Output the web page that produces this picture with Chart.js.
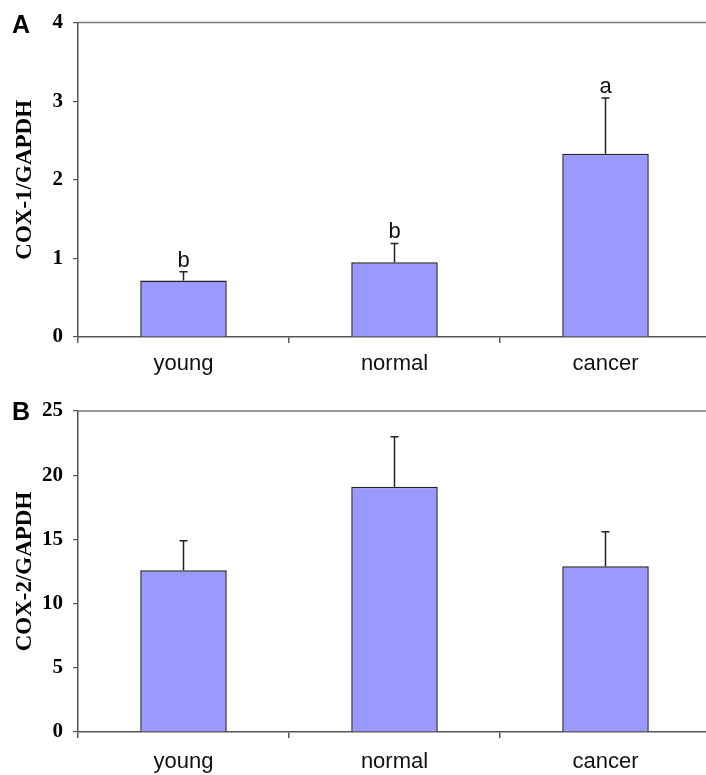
<!DOCTYPE html>
<html>
<head>
<meta charset="utf-8">
<script src="https://cdn.jsdelivr.net/npm/chart.js@4"></script>
<style>
  html, body { margin: 0; padding: 0; background: #fff; overflow: hidden; }
  canvas { display: block; }
</style>
</head>
<body>
<canvas id="chartA" width="712" height="388"></canvas>
<canvas id="chartB" width="712" height="387"></canvas>
<script>
// data
var categories = ['young', 'normal', 'cancer'];
var cox1Means = [0.72, 0.95, 2.33];
var cox1Errors = [0.11, 0.24, 0.71];
var cox1Letters = ['b', 'b', 'a'];
var cox1Ticks = [0, 1, 2, 3, 4];
var cox2Means = [12.6, 19.1, 12.9];
var cox2Errors = [2.3, 3.9, 2.7];
var cox2Ticks = [0, 5, 10, 15, 20, 25];

// error bars, letters, top frame line and panel letter
var extrasPlugin = {
    id: 'extras',
    afterDatasetsDraw: function (chart, args, opts) {
        var ctx = chart.ctx;
        var yScale = chart.scales.y;
        var meta = chart.getDatasetMeta(0);
        var area = chart.chartArea;
        ctx.save();
        // top frame line
        ctx.strokeStyle = '#777';
        ctx.lineWidth = 1.5;
        ctx.beginPath();
        ctx.moveTo(area.left, area.top);
        ctx.lineTo(area.right, area.top);
        ctx.stroke();

        ctx.strokeStyle = '#222';
        ctx.lineWidth = 1.5;
        meta.data.forEach(function (bar, i) {
            var m = opts.means[i];
            var top = yScale.getPixelForValue(m + opts.errors[i]);
            var base = yScale.getPixelForValue(m);
            ctx.beginPath();
            ctx.moveTo(bar.x, base);
            ctx.lineTo(bar.x, top);
            ctx.moveTo(bar.x - 4, top);
            ctx.lineTo(bar.x + 4, top);
            ctx.stroke();
            if (opts.letters) {
                ctx.fillStyle = '#111';
                ctx.font = '22px "Liberation Sans", Arial, sans-serif';
                ctx.textAlign = 'center';
                ctx.textBaseline = 'alphabetic';
                ctx.fillText(opts.letters[i], bar.x, top - 5);
            }
        });
        ctx.fillStyle = '#000';
        ctx.font = 'bold 25px "Liberation Sans", Arial, sans-serif';
        ctx.textAlign = 'left';
        ctx.textBaseline = 'alphabetic';
        ctx.fillText(opts.panel, 12, opts.panelY);
        ctx.restore();
    }
};

function makeChart(id, means, errors, letters, ticks, title, panel, panelY, topPad, xHeight, labelPad) {
    var canvas = document.getElementById(id);
    var yMax = ticks[ticks.length - 1];
    return new Chart(canvas, {
        type: 'bar',
        data: {
            labels: categories,
            datasets: [{
                data: means,
                backgroundColor: '#9999ff',
                borderColor: '#222',
                borderWidth: 1.5,
                barPercentage: 0.41,
                categoryPercentage: 1.0
            }]
        },
        options: {
            responsive: false,
            animation: false,
            devicePixelRatio: 1,
            layout: { padding: { top: topPad, right: 1, left: 0, bottom: 0 } },
            plugins: {
                legend: { display: false },
                tooltip: { enabled: false },
                extras: { means: means, errors: errors, letters: letters, panel: panel, panelY: panelY }
            },
            scales: {
                x: {
                    grid: {
                        offset: true,
                        drawOnChartArea: false,
                        tickLength: 6,
                        color: '#555',
                        lineWidth: 1.5
                    },
                    border: { color: '#555', width: 1.5 },
                    ticks: {
                        color: '#111',
                        padding: labelPad,
                        font: { family: '"Liberation Sans", Arial, sans-serif', size: 22 }
                    },
                    afterFit: function (scale) { scale.height = xHeight; }
                },
                y: {
                    min: 0,
                    max: yMax,
                    afterBuildTicks: function (scale) {
                        scale.ticks = ticks.map(function (v) { return { value: v }; });
                    },
                    grid: {
                        drawOnChartArea: false,
                        tickLength: 5,
                        color: '#555',
                        lineWidth: 1.2
                    },
                    border: { color: '#555', width: 1.5 },
                    ticks: {
                        color: '#000',
                        padding: 10,
                        font: { family: '"Liberation Serif", "Times New Roman", serif', size: 21, weight: 'bold' }
                    },
                    title: {
                        display: true,
                        text: title,
                        color: '#000',
                        padding: { top: 11, bottom: 0 },
                        font: { family: '"Liberation Serif", "Times New Roman", serif', size: 23, weight: 'bold' }
                    },
                    afterFit: function (scale) { scale.width = 78; }
                }
            }
        },
        plugins: [extrasPlugin]
    });
}

makeChart('chartA', cox1Means, cox1Errors, cox1Letters, cox1Ticks, 'COX-1/GAPDH', 'A', 33, 20, 51, 8);
makeChart('chartB', cox2Means, cox2Errors, null, cox2Ticks, 'COX-2/GAPDH', 'B', 32, 23, 43, 11);
</script>
</body>
</html>
